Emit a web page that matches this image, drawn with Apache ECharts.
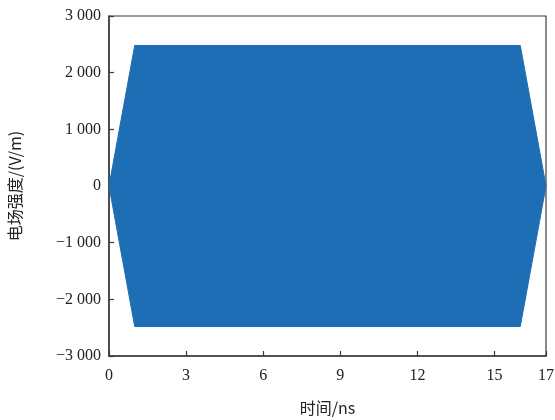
<!DOCTYPE html>
<html>
<head>
<meta charset="utf-8">
<script src="https://cdn.jsdelivr.net/npm/echarts@6/dist/echarts.min.js"></script>
<style>
  html, body { margin: 0; padding: 0; background: #fff; }
  #chart { width: 555px; height: 420px; }
</style>
</head>
<body>
<div id="chart"></div>
<script>
// Envelope of the pulse: linear rise, flat top, linear fall (time in ns, field in V/m)
const timeNs = [0, 1, 16, 17];
const upperEnvelope = [0, 2480, 2480, 0];
const lowerEnvelope = [0, -2480, -2480, 0];

const xLabelValues = [0, 3, 6, 9, 12, 15, 17];

const fillColor = '#1d6eb4';
const serif = '"Liberation Serif", "DejaVu Serif", serif';
const cjk = '"Noto Sans CJK SC", sans-serif';

function fmtY(v) {
  const abs = Math.abs(v);
  const s = abs >= 1000 ? Math.floor(abs / 1000) + ' ' + String(abs % 1000).padStart(3, '0') : String(abs);
  return (v < 0 ? '\u2212' : '') + s;
}

const chart = echarts.init(document.getElementById('chart'), null, { renderer: 'canvas' });
chart.setOption({
  animation: false,
  grid: {
    left: 109, right: 9, top: 16, bottom: 64,
    outerBoundsMode: 'none', containLabel: false,
    show: true, borderColor: '#3a3a3a', borderWidth: 1.2, backgroundColor: 'transparent'
  },
  xAxis: {
    type: 'value', min: 0, max: 17, interval: 3,
    name: '时间/ns', nameLocation: 'middle', nameGap: 44,
    nameTextStyle: { fontFamily: cjk, fontSize: 16, color: '#222' },
    axisLine: { show: true, onZero: false, lineStyle: { color: '#3a3a3a', width: 1.5 } },
    axisTick: { show: true, inside: true, length: 5, lineStyle: { color: '#3a3a3a', width: 1.2 } },
    axisLabel: { customValues: xLabelValues, margin: 12, fontFamily: serif, fontSize: 16, color: '#222' },
    splitLine: { show: false }
  },
  yAxis: {
    type: 'value', min: -3000, max: 3000, interval: 1000,
    name: '电场强度/(V/m)', nameLocation: 'middle', nameGap: 86,
    nameTextStyle: { fontFamily: cjk, fontSize: 16, color: '#222' },
    axisLine: { show: true, onZero: false, lineStyle: { color: '#3a3a3a', width: 1.5 } },
    axisTick: { show: true, inside: true, length: 5, lineStyle: { color: '#3a3a3a', width: 1.2 } },
    axisLabel: { margin: 8, fontFamily: serif, fontSize: 16, color: '#222', formatter: fmtY },
    splitLine: { show: false }
  },
  series: [
    {
      type: 'line', data: timeNs.map((t, i) => [t, upperEnvelope[i]]),
      symbol: 'none', lineStyle: { color: fillColor, width: 1 },
      areaStyle: { color: fillColor, opacity: 1, origin: 0 }
    },
    {
      type: 'line', data: timeNs.map((t, i) => [t, lowerEnvelope[i]]),
      symbol: 'none', lineStyle: { color: fillColor, width: 1 },
      areaStyle: { color: fillColor, opacity: 1, origin: 0 }
    }
  ]
});
</script>
</body>
</html>
